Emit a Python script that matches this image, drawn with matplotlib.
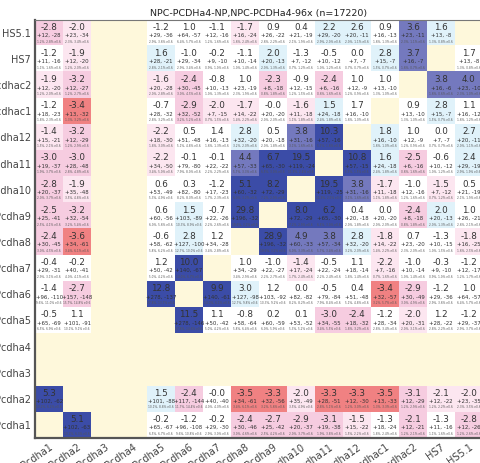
import numpy as np
import matplotlib
matplotlib.use("Agg")
import matplotlib.pyplot as plt
from matplotlib.colors import ListedColormap, BoundaryNorm

# regiones del cluster Pcdha (filas de arriba hacia abajo, columnas de izq. a der.)
filas = ["HS5.1", "HS7", "Pcdhac2", "Pcdhac1", "Pcdha12", "Pcdha11", "Pcdha10",
         "Pcdha9", "Pcdha8", "Pcdha7", "Pcdha6", "Pcdha5", "Pcdha4", "Pcdha3",
         "Pcdha2", "Pcdha1"]
columnas = ["Pcdha1", "Pcdha2", "Pcdha3", "Pcdha4", "Pcdha5", "Pcdha6", "Pcdha7",
            "Pcdha8", "Pcdha9", "Pcdha10", "Pcdha11", "Pcdha12", "Pcdhac1",
            "Pcdhac2", "HS7", "HS5.1"]
titulo = "NPC-PCDHa4-NP,NPC-PCDHa4-96x (n=17220)"

n = np.nan
# puntaje z de cada par
z = [
    [-2.8, -2.0, n, n, -1.2, 1.0, -1.1, -1.7, 0.9, 0.4, 2.2, 2.6, 0.9, 3.6, 1.6, n],
    [-1.2, -1.9, n, n, 1.6, -1.0, -0.2, -1.1, 2.0, -1.3, -0.5, 0.0, 2.8, 3.7, n, 1.7],
    [-1.9, -3.2, n, n, -1.6, -2.4, -0.8, 1.0, -2.3, -0.9, -2.4, 1.0, 1.0, n, 3.8, 4.0],
    [-1.2, -3.4, n, n, -0.7, -2.9, -2.0, -1.7, -0.0, -1.6, 1.5, 1.7, n, 0.9, 2.8, 1.1],
    [-1.4, -3.2, n, n, -2.2, 0.5, 1.4, 2.8, 0.5, 3.8, 10.3, n, 1.8, 1.0, 0.0, 2.7],
    [-3.0, -3.0, n, n, -2.2, -0.1, -0.1, 4.4, 6.7, 19.5, n, 10.8, 1.6, -2.5, -0.6, 2.4],
    [-2.8, -1.9, n, n, 0.6, 0.3, -1.2, 5.1, 8.2, n, 19.5, 3.8, -1.7, -1.0, -1.5, 0.5],
    [-2.5, -3.2, n, n, 0.6, 1.5, -0.7, 29.8, n, 8.0, 6.2, 0.4, 0.0, -2.4, 2.0, 1.0],
    [-2.4, -3.6, n, n, -0.6, 2.8, 1.2, n, 28.9, 4.9, 3.8, 2.8, -1.8, 0.7, -1.3, -1.8],
    [-0.4, -0.2, n, n, 1.2, 10.0, n, 1.0, -1.0, -1.4, -0.5, 1.1, -2.2, -1.0, -0.3, -1.2],
    [-1.4, -2.7, n, n, 12.8, n, 9.9, 3.0, 1.2, 0.0, -0.5, 0.4, -3.4, -2.9, -1.2, 1.0],
    [-0.5, 1.1, n, n, n, 11.5, 1.1, -0.8, 0.2, 0.1, -3.0, -2.4, -1.2, -2.0, 1.2, -1.2],
    [n] * 16,
    [n] * 16,
    [5.3, n, n, n, 1.5, -2.4, -0.0, -3.5, -3.3, -2.0, -3.3, -3.3, -3.5, -3.1, -2.1, -2.0],
    [n, 5.1, n, n, -0.2, -1.2, -0.2, -2.4, -2.7, -2.9, -3.1, -1.5, -1.3, -2.1, -1.3, -2.8],
]

# lecturas a favor (+)
mas = [
    [12, 23, n, n, 29, 64, 12, 16, 26, 21, 29, 20, 16, 23, 13, n],
    [11, 12, n, n, 28, 29, 9, 10, 20, 7, 10, 7, 15, 16, n, 13],
    [12, 12, n, n, 20, 30, 10, 23, 8, 12, 6, 12, 13, n, 16, 23],
    [18, 13, n, n, 28, 32, 7, 14, 20, 11, 24, 16, n, 13, 15, 16],
    [15, 12, n, n, 18, 51, 16, 32, 20, 31, 57, n, 16, 12, 7, 20],
    [19, 28, n, n, 34, 79, 22, 57, 65, 119, n, 57, 24, 6, 10, 29],
    [20, 35, n, n, 53, 82, 17, 60, 72, n, 119, 31, 11, 12, 7, 21],
    [25, 32, n, n, 60, 103, 22, 196, n, 72, 65, 20, 20, 8, 20, 26],
    [30, 34, n, n, 58, 127, 34, n, 196, 60, 57, 32, 14, 23, 10, 16],
    [29, 40, n, n, 50, 140, n, 34, 22, 17, 22, 18, 7, 10, 9, 12],
    [96, 157, n, n, 278, n, 140, 127, 103, 82, 79, 51, 32, 30, 29, 64],
    [65, 101, n, n, n, 278, 50, 58, 60, 53, 34, 18, 28, 20, 28, 29],
    [n] * 16,
    [n] * 16,
    [102, n, n, n, 101, 117, 40, 34, 32, 35, 28, 12, 13, 12, 12, 23],
    [n, 102, n, n, 65, 96, 29, 30, 25, 20, 19, 15, 18, 12, 11, 12],
]

# lecturas en contra (-)
menos = [
    [28, 34, n, n, 36, 57, 16, 24, 22, 19, 20, 11, 13, 11, 8, n],
    [16, 20, n, n, 21, 34, 10, 14, 13, 12, 12, 7, 7, 7, n, 8],
    [20, 27, n, n, 28, 45, 13, 19, 18, 15, 16, 9, 10, n, 6, 10],
    [23, 32, n, n, 32, 52, 15, 22, 20, 18, 18, 10, n, 10, 7, 12],
    [21, 29, n, n, 30, 48, 13, 20, 18, 16, 16, n, 10, 9, 7, 11],
    [37, 48, n, n, 50, 80, 22, 33, 30, 24, n, 15, 18, 16, 12, 19],
    [37, 48, n, n, 49, 80, 23, 32, 29, n, 25, 16, 18, 16, 12, 19],
    [41, 54, n, n, 56, 89, 26, 32, n, 29, 30, 18, 20, 18, 13, 21],
    [45, 61, n, n, 62, 100, 28, n, 32, 33, 34, 20, 22, 20, 15, 25],
    [31, 41, n, n, 42, 67, n, 29, 27, 24, 24, 14, 16, 14, 10, 17],
    [110, 148, n, n, 137, n, 61, 98, 92, 82, 84, 48, 57, 49, 36, 57],
    [69, 91, n, n, n, 146, 42, 64, 59, 52, 55, 32, 34, 31, 22, 37],
    [n] * 16,
    [n] * 16,
    [62, n, n, n, 88, 144, 40, 61, 56, 49, 51, 30, 33, 29, 22, 35],
    [n, 63, n, n, 67, 108, 30, 46, 42, 37, 38, 22, 24, 21, 16, 26],
]

# nivel de significancia (signo = direccion)
sig = [
    [-2, -1, n, n, 0, 0, 0, -1, 0, 0, 1, 1, 0, 2, 1, n],
    [0, -1, n, n, 1, 0, 0, 0, 1, 0, 0, 0, 1, 2, n, 0],
    [-1, -2, n, n, -1, -2, 0, 0, -2, 0, -2, 0, 0, n, 2, 2],
    [0, -3, n, n, 0, -2, -1, -1, 0, -1, 1, 0, n, 0, 1, 0],
    [-1, -2, n, n, -1, 0, 0, 1, 0, 2, 3, n, 1, 0, 0, 1],
    [-2, -2, n, n, -1, 0, 0, 2, 3, 3, n, 3, 1, -2, 0, 1],
    [-2, -1, n, n, 0, 0, 0, 3, 3, n, 3, 2, -1, 0, -1, 0],
    [-2, -2, n, n, 0, 1, 0, 3, n, 3, 3, 0, 0, -2, 1, 0],
    [-2, -3, n, n, 0, 1, 0, n, 3, 2, 2, 1, -1, 0, 0, -1],
    [0, 0, n, n, 0, 3, n, 0, 0, -1, 0, 0, -1, 0, 0, 0],
    [0, -2, n, n, 3, n, 3, 1, 0, 0, 0, 0, -3, -2, 0, 0],
    [0, 0, n, n, n, 3, 0, 0, 0, 0, -2, -2, 0, -1, 0, 0],
    [n] * 16,
    [n] * 16,
    [3, n, n, n, 1, -2, 0, -3, -3, -1, -3, -3, -3, -2, -1, -1],
    [n, 3, n, n, 0, 0, 0, -2, -2, -2, -2, -1, 0, -2, 0, -2],
]

Z = np.array(z, dtype=float)
P = np.array(mas, dtype=float)
M = np.array(menos, dtype=float)
S = np.ma.masked_invalid(np.array(sig, dtype=float))

colores = ["#F08182", "#F6CCE0", "#FCE6F0", "#FFFFFF",
           "#E0F2FA", "#7479BE", "#3B4CA7"]
cmap = ListedColormap(colores)
cmap.set_bad("#FEF8DB")
norm = BoundaryNorm(np.arange(-3.5, 4.5, 1), cmap.N)

fig = plt.figure(figsize=(4.81, 4.63), dpi=100)
ax = fig.add_axes([0.073, 0.054, 0.931, 0.903])
ax.imshow(S, cmap=cmap, norm=norm, aspect="auto", interpolation="nearest")

for i in range(len(filas)):
    for j in range(len(columnas)):
        if np.isnan(Z[i, j]):
            continue
        a, b = int(P[i, j]), int(M[i, j])
        ax.text(j, i - 0.22, f"{Z[i, j]:.1f}", ha="center", va="center",
                fontsize=6.3, color="#333333")
        ax.text(j, i + 0.1, f"+{a}, -{b}", ha="center", va="center",
                fontsize=3.9, color="#333333")
        ax.text(j, i + 0.33, f"{a / 10:.1f}%, {b / 10:.1f}% e0.6", ha="center",
                va="center", fontsize=2.1, color="#555555")

ax.set_xticks(range(len(columnas)))
ax.set_xticklabels(columnas, rotation=35, ha="right", rotation_mode="anchor",
                   fontsize=7, color="#444444")
ax.set_yticks(range(len(filas)))
ax.set_yticklabels(filas, fontsize=7, color="#444444")
ax.tick_params(length=0, pad=3)
ax.set_title(titulo, fontsize=6.8, color="#222222", pad=3)

for lado in ["left", "bottom"]:
    ax.spines[lado].set_linewidth(1.6)
    ax.spines[lado].set_color("#555555")
for lado in ["top", "right"]:
    ax.spines[lado].set_linewidth(0.8)
    ax.spines[lado].set_color("#777777")

fig.savefig("out.png", dpi=100)
